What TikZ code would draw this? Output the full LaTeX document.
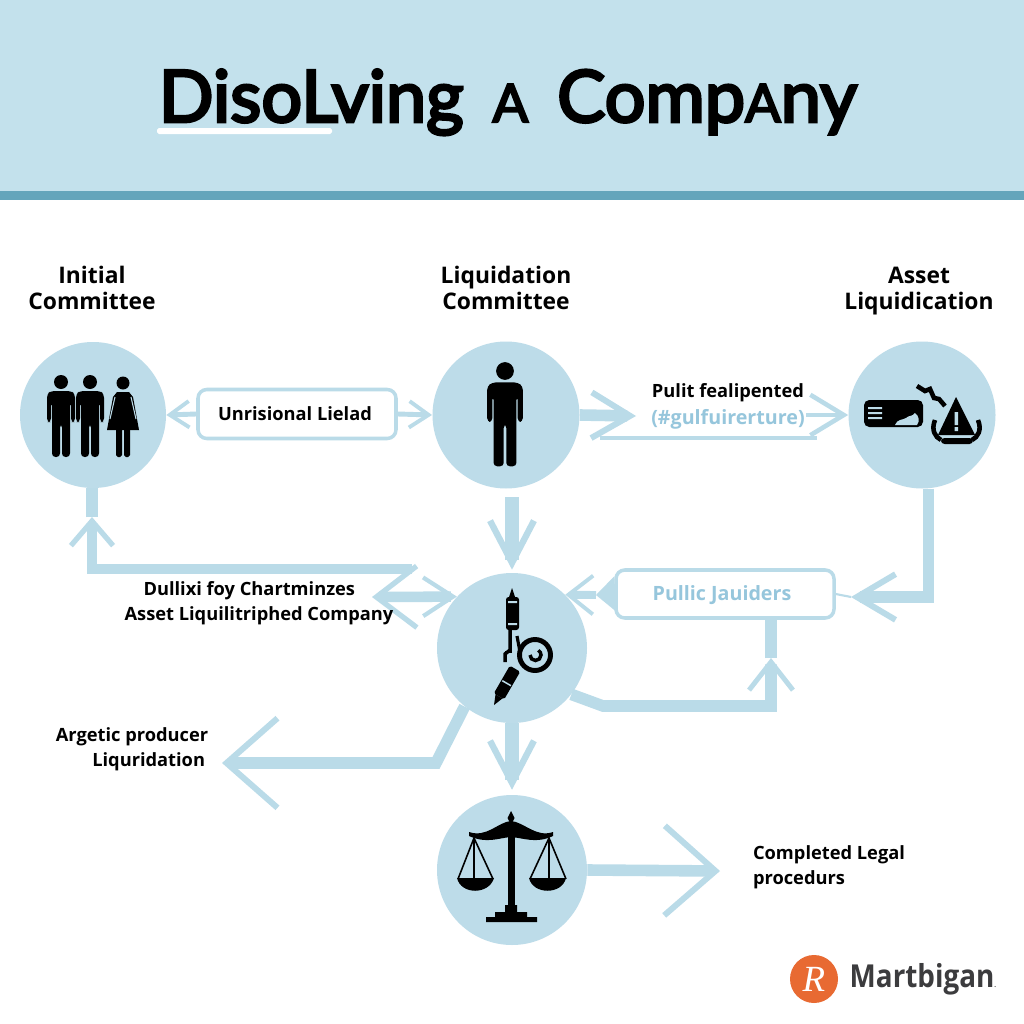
\documentclass[tikz,border=0pt]{standalone}
\usepackage{fontspec}
\usepackage{xcolor}
\setmainfont{Open Sans}
\newfontfamily\titlefont[FakeBold=4]{Lato}
\newfontfamily\logofont{Liberation Serif}
\usetikzlibrary{positioning,arrows.meta}
\definecolor{headerblue}{RGB}{195, 225, 236}
\definecolor{barteal}{RGB}{100, 165, 187}
\definecolor{discblue}{RGB}{189, 220, 233}
\definecolor{arrowblue}{RGB}{186, 219, 232}
\definecolor{textblue}{RGB}{150, 198, 220}
\definecolor{logoorange}{RGB}{232, 106, 50}
\definecolor{logogray}{RGB}{60, 60, 62}

\tikzset{
  manicon/.pic={
    \fill[black] (0,0) circle (7);
    \fill[black, rounded corners=2pt] (-14,40) -- (-14,12) -- (-10,9) -- (10,9) -- (14,12) -- (14,40) -- (10,40) -- (10,20) -- (9,20) -- (9,75) -- (1,75) -- (1,42) -- (-1,42) -- (-1,75) -- (-9,75) -- (-9,20) -- (-10,20) -- (-10,40) -- cycle;
  },
  womanicon/.pic={
    \fill[black] (0,0) circle (6.5);
    \fill[black] (-6,9) -- (6,9) -- (10,14) -- (16,47) -- (-16,47) -- (-10,14) -- cycle;
    \fill[black, rounded corners=1pt] (-7,45) rectangle (-1,74);
    \fill[black, rounded corners=1pt] (1,45) rectangle (7,74);
    \draw[discblue, line width=0.6pt] (-8,14) -- (-13,36);
    \draw[discblue, line width=0.6pt] (8,14) -- (13,36);
  }
}

\begin{document}
\begin{tikzpicture}[
  x=0.02cm, y=-0.02cm,
  disc/.style={circle, fill=discblue, minimum size=#1*0.02cm, inner sep=0pt},
  labelbox/.style={
    draw=arrowblue, fill=white, rounded corners=5pt, line width=2pt,
    inner sep=0pt, align=center
  },
  headtext/.style={font=\fontsize{13}{15}\selectfont\bfseries, align=center},
  smalltext/.style={font=\fontsize{10.4}{14.2}\selectfont\bfseries, align=center},
  bluetext/.style={smalltext, font=\fontsize{11.2}{14.2}\selectfont\bfseries, text=textblue},
  arrline/.style={line width=#1, arrowblue},
  arr/.style={-{Straight Barb[length=22pt,width=26pt,line width=3.4pt]}, line width=6.6pt, arrowblue},
  arrdown/.style={-{Straight Barb[length=24pt,width=25pt,line width=3.6pt]}, line width=8pt, arrowblue},
  arrmid/.style={-{Straight Barb[length=19pt,width=23pt,line width=2.6pt]}, line width=2.6pt, arrowblue},
  arrthin/.style={-{Straight Barb[length=11pt,width=15pt,line width=2.2pt]}, line width=2.8pt, arrowblue},
  arropen/.style={-{Straight Barb[length=29pt,width=51pt,line width=3.4pt]}, line width=6.6pt, arrowblue}
]
\useasboundingbox (0,0) rectangle (1024,1024);
\fill[white] (0,0) rectangle (1024,1024);

%% ── HEADER ──
\fill[headerblue] (0,0) rectangle (1024,191);
\fill[barteal] (0,191) rectangle (1024,200);
\node[anchor=base, inner sep=0pt, font=\titlefont\fontsize{41}{50}\selectfont] (T1) at (508,122)
  {DisoLving\hspace{6pt} {\fontsize{30}{30}\selectfont A}\hspace{6pt} Comp{\fontsize{30}{30}\selectfont A}ny};
\fill[white, rounded corners=1pt] (157,128) rectangle (332,134);

%% ── DISCS ──
\node[disc=146] (C1) at (93,415) {};
\node[disc=147] (C2) at (506,415) {};
\node[disc=147] (C3) at (922,415) {};
\node[disc=150] (C4) at (512,648) {};
\node[disc=150] (C5) at (512,870) {};

%% ── BOXES ──
\node[labelbox, minimum width=198*0.02cm, minimum height=49*0.02cm] (B1) at (297,414) {};
\node[labelbox, minimum width=218*0.02cm, minimum height=48*0.02cm] (B2) at (725,594) {};

%% ── FREE ENDS ──
\coordinate (K1) at (92,517);
\coordinate (K2) at (636,416);
\coordinate (K3) at (851,597);
\coordinate (K4) at (372,597);
\coordinate (K5) at (771,658);
\coordinate (K6) at (222,763);
\coordinate (K7) at (720,871);
\coordinate (K8) at (512,497);
\coordinate (K9) at (596,595);
\coordinate (K10) at (432,415);

%% ── TOP ROW ARROWS ──
\draw[arrthin] (B1.west) -- (C1.east);
\draw[arrthin] (B1.east) -- (K10);
\draw[arr] (C2.east) -- (K2);
\draw[arrline=2.8pt] (600,438) -- (817,438);
\draw[arrmid] (806,415) -- (C3.west);

%% ── RIGHT SIDE ──
\draw[arr, line join=miter] (C3.-85) |- (K3);
\draw[arrline=1.2pt] (B2.east) -- (K3);
\draw[-{Triangle[length=11pt,width=20pt]}, arrline=1pt] (B2.west) -- (K9);
\draw[-{Straight Barb[length=14pt,width=22pt,line width=2.2pt]}, arrline=4.5pt] (K9) -- (C4.45);

%% ── LEFT LOOP ──
\draw[-{Straight Barb[length=14pt,width=24pt,line width=3pt]}, arrline=6pt, line join=miter]
  (412,569) -- (92,569) -- (K1);
\draw[arrline=6.6pt] (K1) -- (C1.south -| K1);
\draw[{Straight Barb[length=23pt,width=35pt,line width=3pt]}-{Straight Barb[length=17pt,width=22pt,line width=2.4pt]}, arrline=6pt]
  (K4) -- (C4.137);

%% ── CENTRE COLUMN ──
\draw[arrdown, shorten >=1.7pt] (K8) -- (C4.north);
\draw[arrdown, shorten >=2.8pt] (C4.south) -- (C5.north);

%% ── LOWER ARROWS ──
\draw[-{Straight Barb[length=16pt,width=25pt,line width=2.8pt]}, arrline=6.6pt, line join=miter]
  (C4.-38) -- (603,706) -- (771,706) -- (K5);
\draw[arrline=6.6pt] (K5) -- (K5 |- B2.south);
\draw[arropen, line join=miter] (C4.-129) -- (436,763) -- (K6);
\draw[arropen] (C5.east) -- (K7);

%% ── TEXT ──
\node[headtext] (L1) at (92,288) {Initial\\Committee};
\node[headtext] (L2) at (506,288) {Liquidation\\Committee};
\node[headtext] (L3) at (919,291) {Asset\\Liquidication};
\node[smalltext] (L4) at (295,414) {Unrisional Lielad};
\node[smalltext] (L5) at (728,393) {Pulit fealipented};
\node[bluetext] (L6) at (728,419) {(\#gulfuirerture)};
\node[bluetext] (L7) at (722,595) {Pullic Jauiders};
\node[smalltext] (L8) at (259,603.5) {Dullixi foy Chartminzes\hspace*{11pt}\\Asset Liquilitriphed Company};
\node[smalltext] (L9) at (132,749.5) {Argetic producer\\\hspace*{19pt}Liquridation};
\node[smalltext, align=left] (L10) at (829,867.5) {Completed Legal\\procedurs};

%% ── PEOPLE ──
\pic at (61,382) {manicon};
\pic at (90,382) {manicon};
\pic at (123,383) {womanicon};
\pic[scale=1.27] at (505,371) {manicon};

%% ── CARD AND WARNING ──
\fill[black, rounded corners=3pt] (864,400) rectangle (923,427);
\fill[discblue] (868,407) rectangle (882,409) (868,412) rectangle (882,414) (868,417) rectangle (882,419);
\fill[discblue] (895,425) .. controls (897,419) and (903,420) .. (906,418) .. controls (909,415) and (912,417) .. (915,413) .. controls (919,416) and (920,421) .. (917,425) -- cycle;
\draw[black, line width=2.6pt] (917,386) -- (925,391) -- (930,389) -- (934,398) -- (939,399) -- (945,406);
\fill[black] (956,397) -- (975,435) -- (938,435) -- cycle;
\fill[discblue] (954.5,412) rectangle (958,425) (954.5,427) rectangle (958,431);
\draw[black, line width=2.6pt] (935,420) .. controls (931,430) and (935,437) .. (941,440);
\draw[black, line width=2.6pt] (978,420) .. controls (982,430) and (978,437) .. (972,440);
\fill[black, rounded corners=2pt] (941,438) rectangle (973,444);

%% ── PEN ──
\fill[black] (512,588) -- (515,597) -- (509,597) -- cycle;
\fill[black, rounded corners=1.5pt] (506,597) rectangle (519,630);
\fill[discblue] (508,601) rectangle (517,603) (508,623) rectangle (517,625);
\draw[black, line width=2pt] (510,630) -- (510,650) -- (505,654) -- (505,662);
\draw[black, line width=1.6pt] (505,652) -- (512,652);
\draw[black, line width=1.8pt] (517,636) -- (520,652) -- (520,660);
\draw[black, line width=2.8pt] (535,655) circle (15.5);
\draw[black, line width=2pt] (530,655) arc[start angle=180, end angle=-60, radius=5.5];
\fill[black, rounded corners=1pt, rotate around={-30:(505,686)}] (499,666) rectangle (511,698);
\fill[discblue, rotate around={-30:(505,686)}] (500,682) rectangle (510,683.5);
\fill[black, rotate around={-30:(505,686)}] (501,698) -- (509,698) -- (505,708) -- cycle;

%% ── SCALES ──
\fill[black] (511,811) -- (514.5,818) -- (511,825) -- (507.5,818) -- cycle;
\fill[black] (469,832) .. controls (487,838) and (498,822) .. (511,821) .. controls (524,822) and (536,838) .. (553,832) -- (553,836) .. controls (536,844) and (524,838) .. (511,837) .. controls (498,838) and (487,844) .. (469,836) -- cycle;
\fill[black] (507.5,826) rectangle (514.5,905);
\fill[black] (505,905) rectangle (517,912) (495,912) rectangle (527,917) (486,917) rectangle (537,922);
\draw[black, line width=0.9pt] (458,879) -- (474,838) -- (493,879) (474,838) -- (474,879);
\draw[black, line width=0.9pt] (530,879) -- (549,838) -- (566,879) (549,838) -- (549,879);
\fill[black] (457,878) .. controls (461,895) and (489,895) .. (494,878) -- cycle;
\fill[black] (529,878) .. controls (533,895) and (562,895) .. (566,878) -- cycle;

%% ── LOGO ──
\node[circle, fill=logoorange, minimum size=48*0.02cm, inner sep=0pt,
  font=\logofont\itshape\fontsize{21}{21}\selectfont, text=white] (G1) at (814,979) {R};
\node[right=11*0.02cm of G1, inner sep=0pt, text=logogray, font=\fontsize{18}{20}\selectfont\bfseries] (G2) {\scalebox{0.88}[1]{Martbigan{\fontsize{4}{4}\selectfont .}}};

\end{tikzpicture}
\end{document}
